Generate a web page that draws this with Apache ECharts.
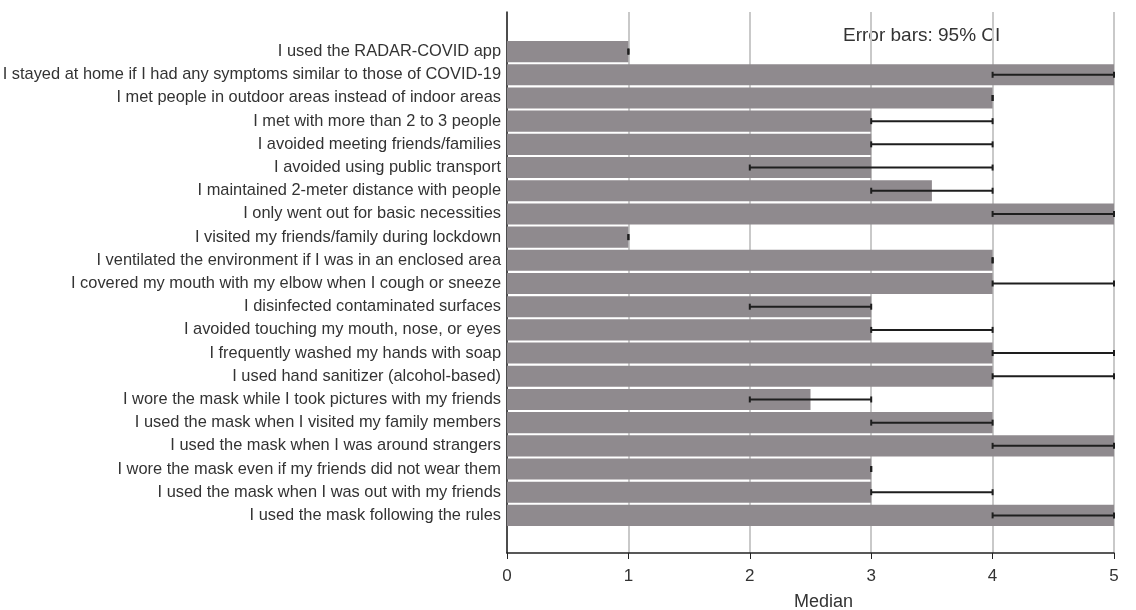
<!DOCTYPE html>
<html lang="en">
<head>
    <meta charset="UTF-8">
    <title>Preventive behaviours - median</title>
    <script src="https://cdn.jsdelivr.net/npm/echarts@6/dist/echarts.min.js"></script>
    <style>
        html, body { margin: 0; padding: 0; background: #fff; }
        #main { width: 1136px; height: 610px; }
    </style>
</head>
<body>
<div id="main"></div>
<script>
    // categories, top to bottom
    var categories = [
        "I used the RADAR-COVID app",
        "I stayed at home if I had any symptoms similar to those of COVID-19",
        "I met people in outdoor areas instead of indoor areas",
        "I met with more than 2 to 3 people",
        "I avoided meeting friends/families",
        "I avoided using public transport",
        "I maintained 2-meter distance with people",
        "I only went out for basic necessities",
        "I visited my friends/family during lockdown",
        "I ventilated the environment if I was in an enclosed area",
        "I covered my mouth with my elbow when I cough or sneeze",
        "I disinfected contaminated surfaces",
        "I avoided touching my mouth, nose, or eyes",
        "I frequently washed my hands with soap",
        "I used hand sanitizer (alcohol-based)",
        "I wore the mask while I took pictures with my friends",
        "I used the mask when I visited my family members",
        "I used the mask when I was around strangers",
        "I wore the mask even if my friends did not wear them",
        "I used the mask when I was out with my friends",
        "I used the mask following the rules"
    ];
    var medians = [1, 5, 4, 3, 3, 3, 3.5, 5, 1, 4, 4, 3, 3, 4, 4, 2.5, 4, 5, 3, 3, 5];
    var ciLow   = [1, 4, 4, 3, 3, 2, 3, 4, 1, 4, 4, 2, 3, 4, 4, 2, 3, 4, 3, 3, 4];
    var ciHigh  = [1, 5, 4, 4, 4, 4, 4, 5, 1, 4, 5, 3, 4, 5, 5, 3, 4, 5, 3, 4, 5];
    var xTicks = [0, 1, 2, 3, 4, 5];

    var errData = categories.map(function (c, i) {
        return [ciLow[i], ciHigh[i], i];
    });

    var myChart = echarts.init(document.getElementById('main'));

    function renderErr(params, api) {
        var idx = api.value(2);
        var p1 = api.coord([api.value(0), idx]);
        var p2 = api.coord([api.value(1), idx]);
        var h = 3;
        var st = {stroke: '#1e1e1e', lineWidth: 2};
        return {
            type: 'group',
            children: [
                {type: 'line', shape: {x1: p1[0], y1: p1[1], x2: p2[0], y2: p2[1]}, style: st},
                {type: 'line', shape: {x1: p1[0], y1: p1[1] - h, x2: p1[0], y2: p1[1] + h}, style: st},
                {type: 'line', shape: {x1: p2[0], y1: p2[1] - h, x2: p2[0], y2: p2[1] + h}, style: st}
            ]
        };
    }

    var option = {
        animation: false,
        textStyle: {fontFamily: 'Liberation Sans, Arial, sans-serif'},
        graphic: [{
            type: 'text', left: 843, top: 26,
            style: {text: 'Error bars: 95% CI', font: '19px Liberation Sans, Arial, sans-serif', fill: '#333'}
        }],
        grid: [
            {left: 507, right: 22, top: 40, bottom: 83, outerBoundsMode: 'none'},
            {left: 507, right: 22, top: 12, bottom: 57, outerBoundsMode: 'none'}
        ],
        xAxis: [
            {gridIndex: 0, type: 'value', min: 0, max: 5, show: false},
            {
                gridIndex: 1, type: 'value', min: 0, max: 5, interval: 1,
                name: 'Median', nameLocation: 'middle', nameGap: 40,
                nameTextStyle: {fontSize: 18, color: '#333', padding: [0, 0, 0, 26]},
                axisLine: {show: true, lineStyle: {color: '#222', width: 1.5}},
                axisTick: {show: true, length: 6, lineStyle: {color: '#222'}},
                axisLabel: {fontSize: 17, color: '#333', margin: 15,
                    formatter: function (v) { return xTicks.indexOf(v) >= 0 ? String(v) : ''; }},
                splitLine: {show: true, lineStyle: {color: '#c9c9c9', width: 2}}
            }
        ],
        yAxis: [
            {
                gridIndex: 0, type: 'category', inverse: true, data: categories,
                axisLine: {show: false}, axisTick: {show: false},
                axisLabel: {fontSize: 16.4, color: '#333', margin: 6, interval: 0}
            },
            {
                gridIndex: 1, type: 'value', min: 0, max: 1,
                axisLine: {show: true, onZero: false, lineStyle: {color: '#222', width: 1.5}},
                axisTick: {show: false}, axisLabel: {show: false}, splitLine: {show: false}
            }
        ],
        series: [
            {
                type: 'bar', xAxisIndex: 0, yAxisIndex: 0, data: medians,
                barCategoryGap: '9%',
                itemStyle: {color: '#8f8a8e'}
            },
            {
                type: 'custom', xAxisIndex: 0, yAxisIndex: 0, data: errData,
                renderItem: renderErr, z: 5,
                encode: {x: [0, 1], y: 2}
            }
        ]
    };
    myChart.setOption(option);
</script>
</body>
</html>
